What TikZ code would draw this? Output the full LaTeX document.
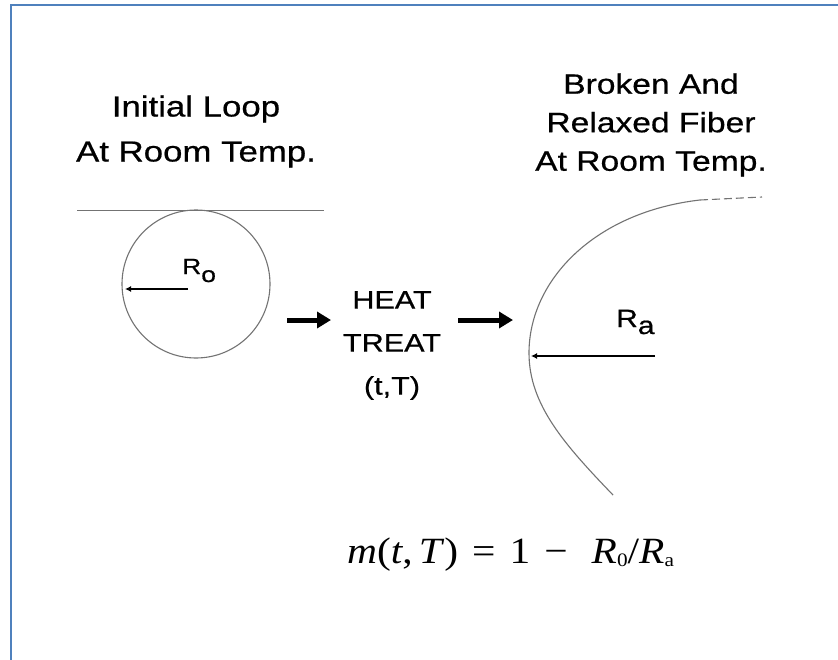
\documentclass[tikz,border=0pt]{standalone}
\usepackage{fontspec}
\setmainfont{Liberation Serif}
\newfontfamily\hv[FakeStretch=1.2,FakeBold=0.6]{Liberation Sans}
\newfontfamily\eqf[FakeStretch=1.12]{Liberation Serif}
\usetikzlibrary{arrows.meta}
\definecolor{frameblue}{RGB}{79,129,189}
\begin{document}
\begin{tikzpicture}[x=1pt,y=-1pt,
  ttl/.style={font=\hv\fontsize{29}{45}\selectfont, align=center, inner sep=0pt},
  ttlr/.style={font=\hv\fontsize{28}{38.5}\selectfont, align=center, inner sep=0pt},
  mid/.style={font=\hv\fontsize{25.5}{43}\selectfont, align=center, inner sep=0pt},
  rlbl/.style={font=\hv\fontsize{22}{22}\selectfont, inner sep=0pt, anchor=base west},
  fiber/.style={draw=black!55, line width=1.1pt},
  bigarrow/.style={line width=5pt, -{Triangle[length=14pt,width=16pt]}},
  radarrow/.style={line width=2pt, -{Latex[length=6pt,width=6pt]}}]
\useasboundingbox (0,0) rectangle (838,659);
\fill[white] (0,0) rectangle (838,659);
\draw[frameblue, line width=2.5pt] (11,680) -- (11,5) -- (860,5);

% titles
\node[ttl] (t1) at (196,131.5) {Initial Loop\\At Room Temp.};
\node[ttlr] (t2) at (651,125) {Broken And\\Relaxed Fiber\\At Room Temp.};

% initial loop
\coordinate (la) at (77,210);
\coordinate (lb) at (324,210);
\draw[fiber, line width=0.9pt] (la) -- (lb);
\node[circle, fiber, minimum size=148pt, inner sep=0pt] (loop) at (196,284) {};
\coordinate (oc) at (188,289);
\coordinate (ow) at (125,289);
\draw[radarrow] (oc) -- (ow);
\node[rlbl] (ro) at (182,274) {R\raisebox{-8pt}{o}};

% heat treat
\node[mid] (heat) at (392,345.5) {HEAT\\TREAT\\(t,T)};
\coordinate (a1s) at (287,320);
\coordinate (a1e) at (331,320);
\coordinate (a2s) at (458,320);
\coordinate (a2e) at (513,320);
\draw[bigarrow] (a1s) -- (a1e);
\draw[bigarrow] (a2s) -- (a2e);

% relaxed fiber
\coordinate (fa) at (613,495);
\coordinate (fb) at (529,353);
\coordinate (fc) at (700,200);
\coordinate (fd) at (762,197);
\draw[fiber] (fa) .. controls (565,445) and (529,405) .. (fb)
  .. controls (529,280) and (595,212) .. (fc);
\draw[fiber, dashed, dash pattern=on 8pt off 4pt] (fc) -- (fd);
\coordinate (rc) at (655,356);
\coordinate (rw) at (531,356);
\draw[radarrow] (rc) -- (rw);
\node[rlbl, font=\hv\fontsize{25}{25}\selectfont] (ra) at (616,327) {R\raisebox{-7pt}{a}};

% formula
\node[anchor=base west, inner sep=0pt, font=\eqf\fontsize{37}{40}\selectfont] (eq) at (347,563)
  {\textit{m}(\textit{t},\,\textit{T})\hspace{14pt}=\hspace{14pt}1\hspace{14pt}−\hspace{24pt}\textit{R}{\fontsize{19}{19}\selectfont\raisebox{-3pt}{0}}/\textit{R}{\fontsize{19}{19}\selectfont\raisebox{-3pt}{a}}};
\end{tikzpicture}
\end{document}
